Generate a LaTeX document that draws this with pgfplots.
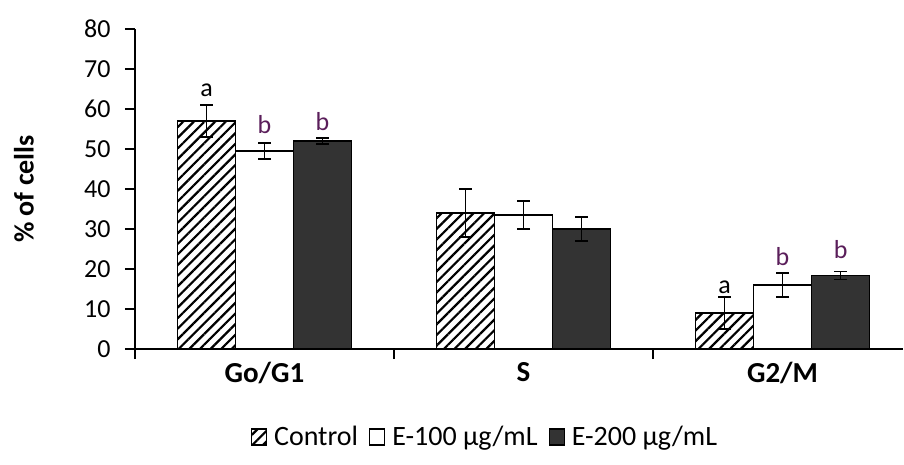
\documentclass[border=0pt]{standalone}
\usepackage{fontspec}
\setmainfont{Carlito}
\usepackage{pgfplots}
\pgfplotsset{compat=1.18}
\usetikzlibrary{patterns.meta}
\definecolor{darkbar}{RGB}{51,51,51}
\definecolor{letb}{RGB}{90,30,90}
\begin{document}
\begin{tikzpicture}
\begin{axis}[
  at={(0,0)}, anchor=south west,
  scale only axis, width=768pt, height=320pt,
  xmin=-0.5, xmax=2.465, ymin=0, ymax=80,
  axis x line*=bottom, axis y line*=left,
  axis line style={line width=1.5pt, black},
  tick align=outside, major tick length=10pt,
  every tick/.style={black, line width=1.5pt},
  /pgf/number format/assume math mode=true,
  ytick={0,10,...,80},
  yticklabel style={font=\fontsize{26}{30}\selectfont, xshift=-11pt},
  xtick={-0.5,0.5,1.5}, xticklabels={},
  extra x ticks={0,1,2},
  extra x tick labels={Go/G1,S,G2/M},
  extra x tick style={major tick length=0pt,
    tick label style={font=\bfseries\fontsize{29}{32}\selectfont, yshift=-10pt}},
  ylabel={\% of cells},
  ylabel style={at={(axis description cs:-0.1445,0.5)}, anchor=center,
    font=\bfseries\fontsize{28}{32}\selectfont},
  ybar=0pt, bar width=58pt,
  error bars/y dir=both, error bars/y explicit,
  error bars/error bar style={line width=1.5pt, black},
  error bars/error mark options={rotate=90, mark size=6.5pt, line width=1.5pt, black},
  legend columns=-1,
  legend style={draw=none, at={(axis description cs:0.4564,-0.275)}, anchor=center,
    font=\fontsize{28}{32}\selectfont,
    /tikz/every odd column/.append style={column sep=4pt},
    /tikz/every even column/.append style={column sep=8pt},
    nodes={inner sep=3pt}},
  legend image code/.code={\draw[#1, line width=1.2pt] (0pt,-8pt) rectangle (15pt,8pt);},
]
\addplot[draw=black, line width=1.5pt,
  pattern={Lines[angle=45,distance=7.5pt,line width=2.2pt]}, pattern color=black]
  coordinates {(0,57) +- (0,4) (1,34) +- (0,6) (2,9) +- (0,4)};
\addplot[draw=black, line width=1.5pt, fill=white]
  coordinates {(0,49.5) +- (0,2) (1,33.5) +- (0,3.5) (2,16) +- (0,3)};
\addplot[draw=black, line width=1.5pt, fill=darkbar]
  coordinates {(0,52) +- (0,0.7) (1,30) +- (0,3) (2,18.4) +- (0,1)};
\legend{Control, E-100 µg/mL, E-200 µg/mL}
\node[anchor=base, font=\fontsize{26}{30}\selectfont] at (axis cs:-0.224,63.25) {a};
\node[anchor=base, font=\fontsize{26}{30}\selectfont, text=letb] at (axis cs:0,53.9) {b};
\node[anchor=base, font=\fontsize{26}{30}\selectfont, text=letb] at (axis cs:0.224,54.75) {b};
\node[anchor=base, font=\fontsize{26}{30}\selectfont] at (axis cs:1.776,13.9) {a};
\node[anchor=base, font=\fontsize{26}{30}\selectfont, text=letb] at (axis cs:2,21) {b};
\node[anchor=base, font=\fontsize{26}{30}\selectfont, text=letb] at (axis cs:2.224,22.7) {b};
\end{axis}
\pgfresetboundingbox
\path[use as bounding box] (-135pt,-115pt) rectangle (769pt,349pt);
\end{tikzpicture}
\end{document}
